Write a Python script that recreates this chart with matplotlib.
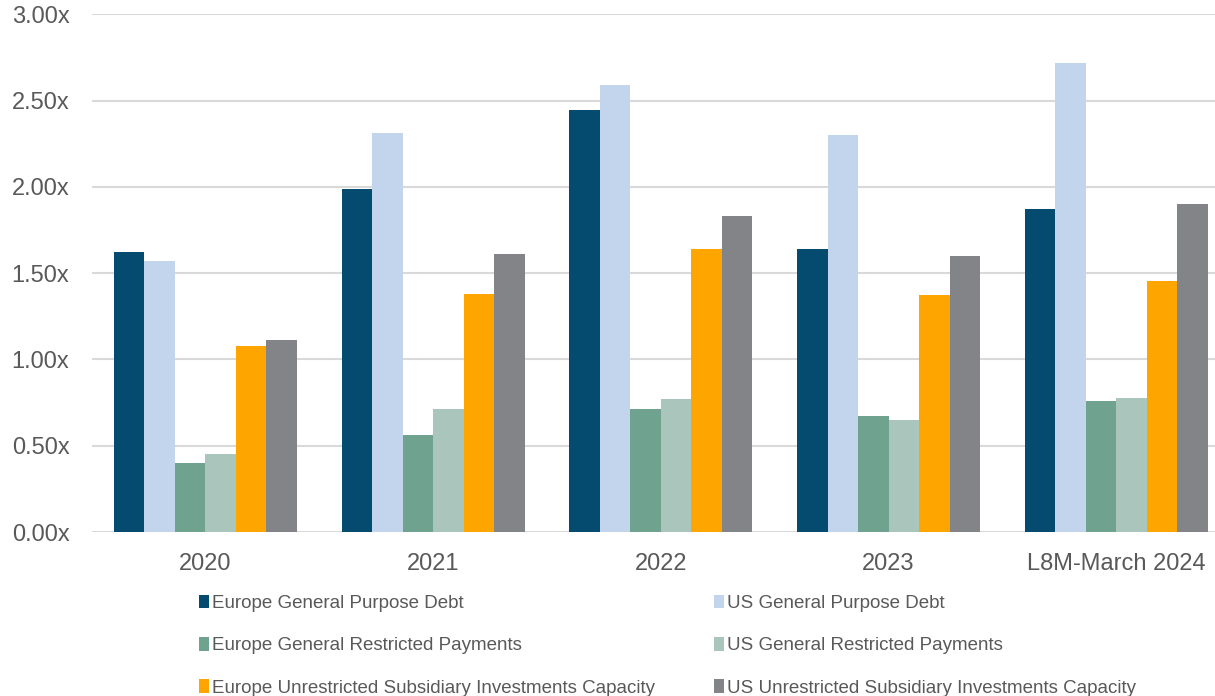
import matplotlib
matplotlib.use("Agg")
import matplotlib.pyplot as plt
import numpy as np
from matplotlib.patches import Patch

categories = ["2020", "2021", "2022", "2023", "L8M-March 2024"]
series_names = [
    "Europe General Purpose Debt",
    "US General Purpose Debt",
    "Europe General Restricted Payments",
    "US General Restricted Payments",
    "Europe Unrestricted Subsidiary Investments Capacity",
    "US Unrestricted Subsidiary Investments Capacity",
]
europe_gpd = [1.62, 1.99, 2.445, 1.64, 1.87]
us_gpd = [1.57, 2.31, 2.59, 2.30, 2.72]
europe_rp = [0.40, 0.56, 0.71, 0.67, 0.76]
us_rp = [0.45, 0.71, 0.77, 0.65, 0.775]
europe_unsub = [1.075, 1.38, 1.64, 1.375, 1.455]
us_unsub = [1.115, 1.61, 1.83, 1.60, 1.90]
yticks = [0.0, 0.5, 1.0, 1.5, 2.0, 2.5, 3.0]
ytick_labels = ["0.00x", "0.50x", "1.00x", "1.50x", "2.00x", "2.50x", "3.00x"]

colors = ["#054B70", "#C3D5EC", "#6FA38F", "#A9C5BC", "#FFA500", "#838487"]
all_series = [europe_gpd, us_gpd, europe_rp, us_rp, europe_unsub, us_unsub]

plt.rcParams['font.family'] = ['Liberation Sans', 'DejaVu Sans']
text_color = "#595959"

fig = plt.figure(figsize=(12.15, 6.96), dpi=100)
ax = fig.add_axes([0.0754, 0.2356, 0.937, 0.744])

x = np.arange(len(categories))
bw = 0.134
n = len(all_series)
for i, (vals, c) in enumerate(zip(all_series, colors)):
    offs = (i - (n - 1) / 2) * bw
    ax.bar(x + offs, vals, width=bw, color=c, zorder=3, linewidth=0)

ax.set_xlim(-0.5, len(categories) - 0.5)
ax.set_ylim(0, 3.0)
ax.set_yticks(yticks)
ax.set_yticklabels(ytick_labels)
ax.set_xticks(x)
ax.set_xticklabels(categories)
ax.tick_params(axis='both', length=0, colors=text_color, labelsize=17)
ax.tick_params(axis='y', pad=16)
ax.tick_params(axis='x', pad=15)
ax.grid(axis='y', color="#D9D9D9", linewidth=1.5, zorder=0)
ax.set_axisbelow(True)
for s in ax.spines.values():
    s.set_visible(False)

handles = [Patch(facecolor=c, edgecolor='none') for c in colors]
left_idx = [0, 2, 4]
right_idx = [1, 3, 5]
common = dict(loc='upper left', frameon=False, fontsize=13.5, handlelength=0.55,
              handleheight=0.72, handletextpad=0.15, labelspacing=1.33,
              borderpad=0, borderaxespad=0, labelcolor=text_color)
leg1 = fig.legend([handles[i] for i in left_idx], [series_names[i] for i in left_idx],
                  bbox_to_anchor=(0.1638, 0.145), **common)
leg2 = fig.legend([handles[i] for i in right_idx], [series_names[i] for i in right_idx],
                  bbox_to_anchor=(0.5877, 0.145), **common)

fig.savefig("out.png", dpi=100)
